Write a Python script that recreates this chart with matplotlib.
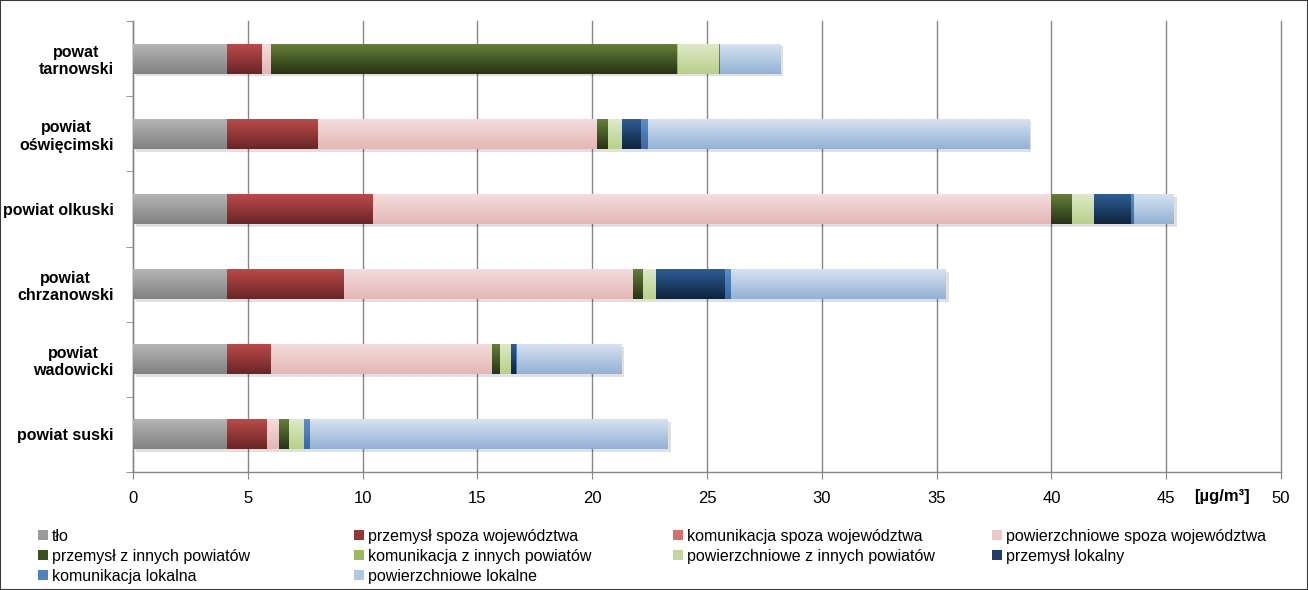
import numpy as np
import matplotlib
matplotlib.use("Agg")
import matplotlib.pyplot as plt
from matplotlib.patches import Patch, Rectangle
from matplotlib import patheffects as pe
from matplotlib.colors import to_rgb

plt.rcParams['font.family'] = ['Liberation Sans', 'DejaVu Sans']

categories = ["powat\ntarnowski", "powiat\noświęcimski", "powiat olkuski",
              "powiat\nchrzanowski", "powiat\nwadowicki", "powiat suski"]

series_names = ["tło", "przemysł spoza województwa", "komunikacja spoza województwa",
                "powierzchniowe spoza województwa", "przemysł z innych powiatów",
                "komunikacja z innych powiatów", "powierzchniowe z innych powiatów",
                "przemysł lokalny", "komunikacja lokalna", "powierzchniowe lokalne"]

tlo                = [4.08, 4.08, 4.08, 4.08, 4.08, 4.08]
przemysl_spoza     = [1.52, 3.96, 6.36, 5.10, 1.95, 1.74]
komunikacja_spoza  = [0.00, 0.00, 0.00, 0.00, 0.00, 0.00]
powierzch_spoza    = [0.43, 12.15, 29.53, 12.60, 9.60, 0.53]
przemysl_inne      = [17.67, 0.50, 0.92, 0.45, 0.35, 0.43]
komunikacja_inne   = [0.04, 0.00, 0.00, 0.00, 0.00, 0.00]
powierzch_inne     = [1.79, 0.61, 0.98, 0.57, 0.48, 0.68]
przemysl_lok       = [0.00, 0.82, 1.59, 3.00, 0.23, 0.00]
komunikacja_lok    = [0.05, 0.29, 0.15, 0.26, 0.03, 0.27]
powierzch_lok      = [2.62, 16.60, 1.74, 9.36, 4.55, 15.57]

series_values = [tlo, przemysl_spoza, komunikacja_spoza, powierzch_spoza,
                 przemysl_inne, komunikacja_inne, powierzch_inne,
                 przemysl_lok, komunikacja_lok, powierzch_lok]

x_ticks = [0, 5, 10, 15, 20, 25, 30, 35, 40, 45, 50]
unit_label = "[µg/m³]"

# (top colour, bottom colour, legend colour)
colors = [
    ("#b6b6b6", "#828282", "#9a9a9a"),
    ("#bd4c4b", "#6a2526", "#953735"),
    ("#e28c8b", "#c65351", "#d46f6d"),
    ("#f4dede", "#e5b6b5", "#ecc8c7"),
    ("#66823a", "#283314", "#3d4f1e"),
    ("#b5ce80", "#88a94a", "#9bbb59"),
    ("#dfeaca", "#b8d088", "#c3d69b"),
    ("#2f6098", "#0f233d", "#1f3d66"),
    ("#5d8fcb", "#3a69a5", "#4f81bd"),
    ("#d8e4f2", "#93b1d6", "#b0c7e4"),
]

fig = plt.figure(figsize=(13.08, 5.90), dpi=100)
ax = fig.add_axes([133/1308, 118/590, (1281-133)/1308, (472-21)/590])

y = np.arange(len(categories))
bar_h = 0.4
left = np.zeros(len(categories))
grid_color = "#868686"

for vals, (ctop, cbot, cleg) in zip(series_values, colors):
    vals = np.array(vals)
    bars = ax.barh(y, vals, left=left, height=bar_h, color=cleg, linewidth=0,
                   zorder=2)
    t = np.array(to_rgb(ctop)); b = np.array(to_rgb(cbot))
    s = np.linspace(0, 1, 64)[:, None]
    grad = (t * (1 - s) + b * s)[:, None, :]
    for p in bars.patches:
        if p.get_width() <= 0:
            continue
        p.set_path_effects([pe.SimplePatchShadow(offset=(2, -2), shadow_rgbFace='k',
                                                 alpha=0.12), pe.Normal()])
        x0 = p.get_x(); x1 = x0 + p.get_width()
        y0 = p.get_y(); y1 = y0 + p.get_height()
        im = ax.imshow(grad, extent=[x0, x1, y1, y0], aspect='auto', zorder=3,
                       interpolation='bilinear')
        im.set_clip_path(p)
    left = left + vals

ax.set_xlim(0, 50)
ax.set_ylim(len(categories) - 0.5, -0.5)
ax.set_aspect('auto')

ax.set_xticks(x_ticks)
ax.set_xticklabels([str(v) for v in x_ticks], fontsize=12)
ax.set_yticks(y)
ax.set_yticklabels(categories, fontsize=11.5, fontweight='bold')
for lab in ax.get_yticklabels():
    lab.set_multialignment('center')
ax.set_yticks(np.arange(-0.5, len(categories) + 0.5, 1), minor=True)
ax.tick_params(axis='y', which='major', length=0, pad=14)
ax.tick_params(axis='y', which='minor', length=5, color=grid_color, direction='out')
ax.tick_params(axis='x', which='major', length=5, color=grid_color, direction='out', pad=9)

ax.grid(axis='x', color=grid_color, linewidth=1, zorder=0)
for gl in ax.get_xgridlines():
    gl.set_clip_on(False)
ax.set_axisbelow(True)
for sp in ['top', 'right']:
    ax.spines[sp].set_visible(False)
for sp in ['left', 'bottom']:
    ax.spines[sp].set_color(grid_color)
    ax.spines[sp].set_linewidth(1)

fig.text(1222/1308, 1 - 497/590, unit_label, fontsize=12, fontweight='bold',
         ha='center', va='center')

# legend, row-wise in 4 columns
handles = [Patch(facecolor=c[2], edgecolor='none') for c in colors]
col_x = [38, 354, 673, 992]
for ci in range(4):
    idx = list(range(ci, len(series_names), 4))
    leg = fig.legend([handles[i] for i in idx], [series_names[i] for i in idx],
                     loc='upper left', bbox_to_anchor=(col_x[ci]/1308, 1 - 529/590),
                     frameon=False, fontsize=11.5, handlelength=0.6, handleheight=0.6,
                     handletextpad=0.25, labelspacing=0.3, borderpad=0,
                     borderaxespad=0)

fig.patches.append(Rectangle((0, 0), 1, 1, transform=fig.transFigure, fill=False,
                             edgecolor='#3a3a3a', linewidth=1.5))

fig.savefig("out.png", dpi=100)
